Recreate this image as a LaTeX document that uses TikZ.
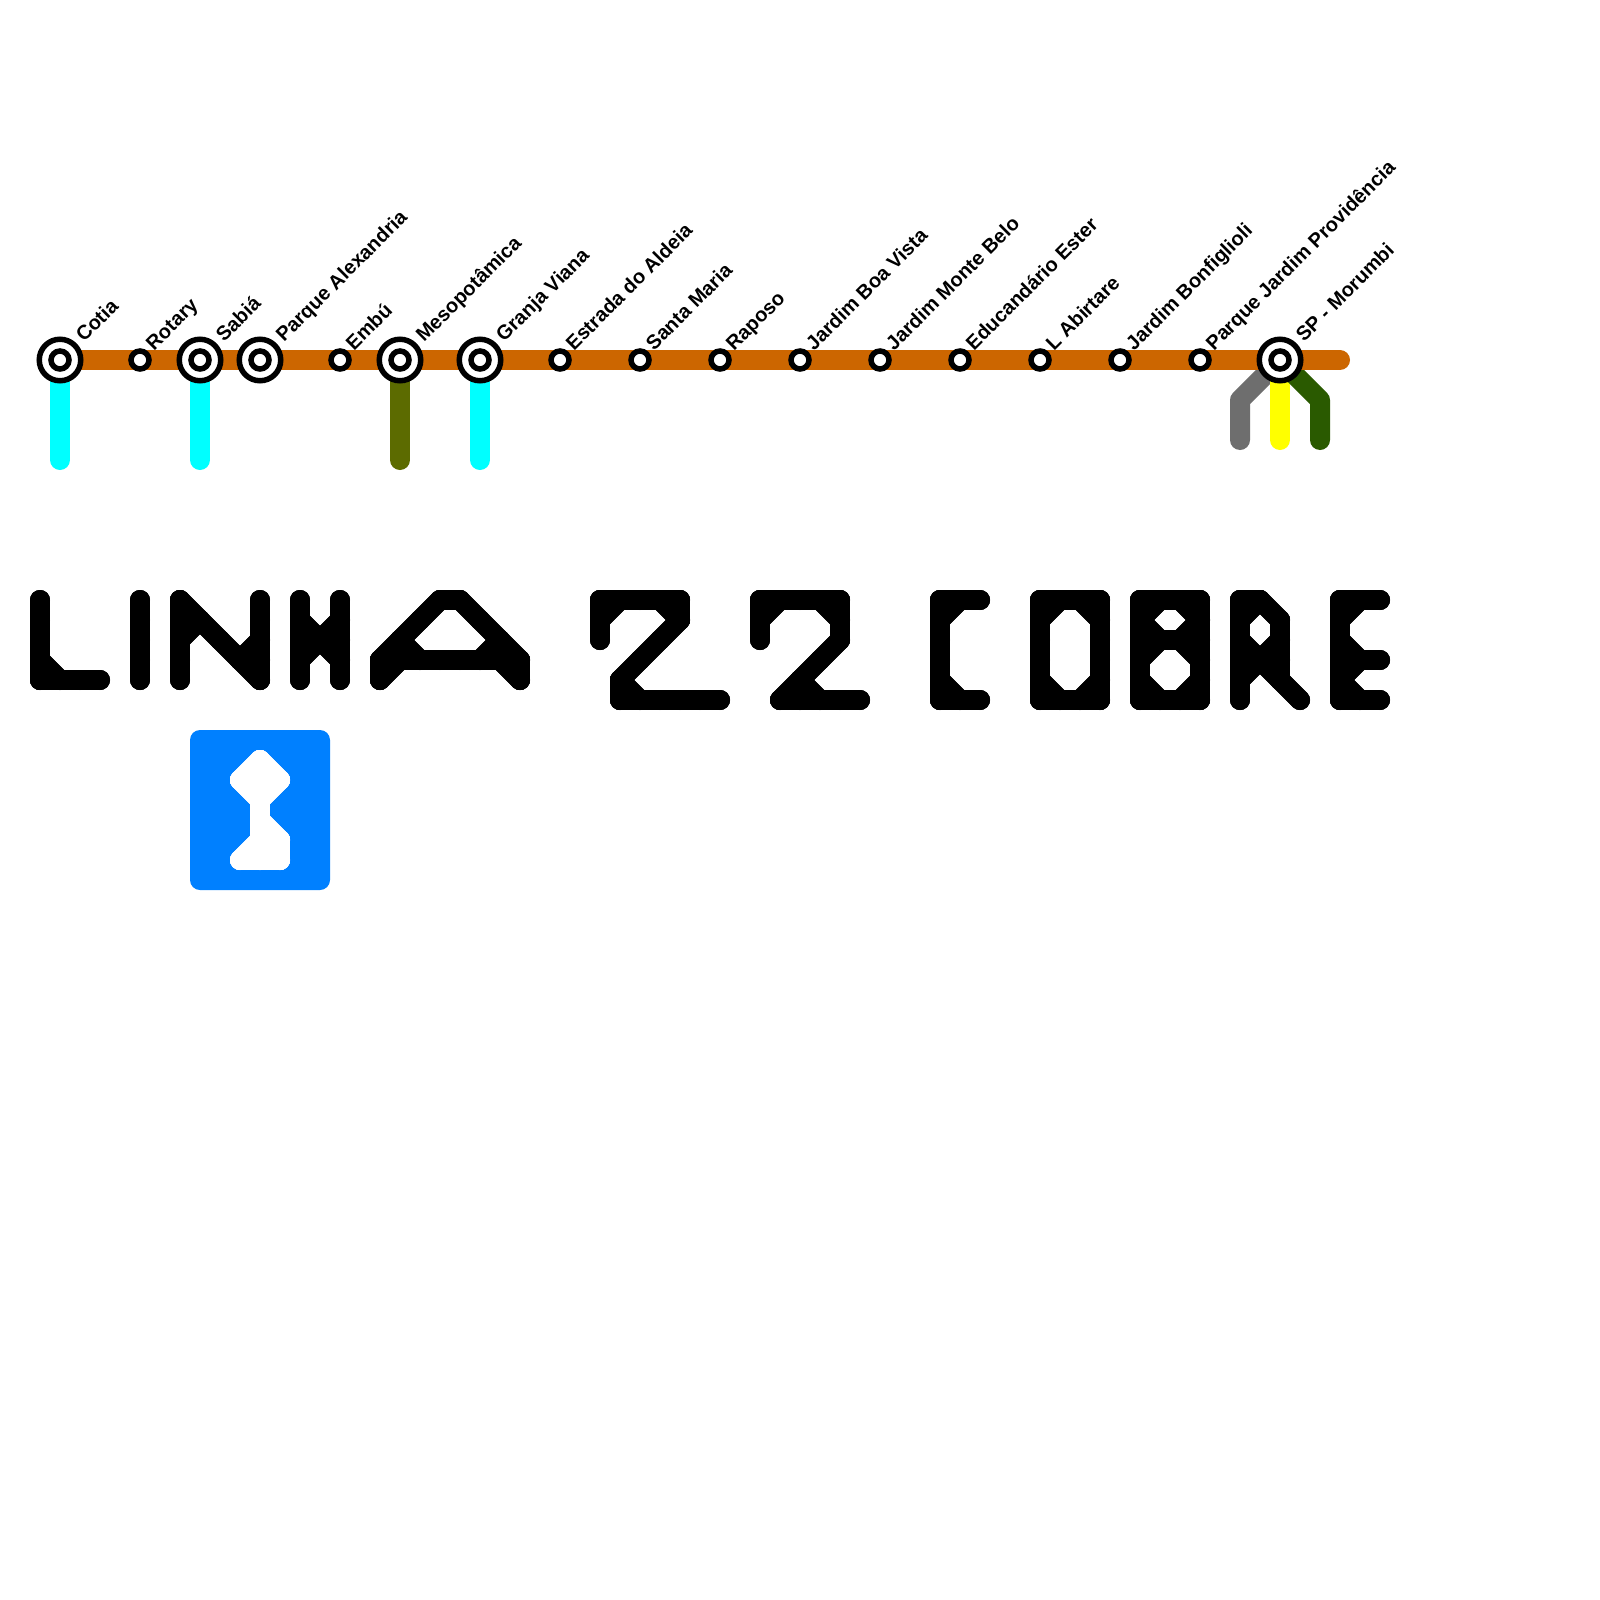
\documentclass[tikz,border=0pt]{standalone}
\usepackage{fontspec}
\setmainfont{Liberation Sans}
\definecolor{lineorange}{HTML}{CC6600}
\definecolor{linecyan}{HTML}{00FFFF}
\definecolor{lineolive}{HTML}{5C6B00}
\definecolor{linegray}{HTML}{6E6E6E}
\definecolor{lineyellow}{HTML}{FFFF00}
\definecolor{linegreen}{HTML}{2A5A00}
\definecolor{signblue}{HTML}{0080FF}
\tikzset{
  route/.style={line width=20pt,line cap=round,line join=round},
  stationsmall/.style={circle,draw=black,fill=white,line width=5.5pt,minimum size=18pt,inner sep=0pt,outer sep=0pt},
  stationbig/.style={circle,draw=black,fill=white,line width=5.5pt,minimum size=41.5pt,inner sep=0pt,outer sep=0pt},
  stopname/.style={rotate=45,anchor=base west,inner sep=0pt,font=\bfseries\fontsize{20}{24}\selectfont},
}
% dot-matrix glyph: every dot joined to its eight neighbours on the 20-unit grid
\newcommand{\matrixglyph}[2]{%
  \foreach \a/\b in {#2}{%
    \foreach \c/\d in {#2}{%
      \pgfmathtruncatemacro{\near}{and(abs(\a-\c)<=20,abs(\b-\d)<=20)}%
      \ifnum\near=1
        \draw[route,#1] (\a,\b) -- (\c,\d);
      \fi
    }%
  }%
}
\begin{document}
\begin{tikzpicture}[x=1pt,y=-1pt]
\useasboundingbox (0,0) rectangle (1600,1600);
\fill[white] (0,0) rectangle (1600,1600);

\coordinate (lineend) at (1340,360);
\coordinate (p60) at (60,360);
\coordinate (p200) at (200,360);
\coordinate (p400) at (400,360);
\coordinate (p480) at (480,360);
\coordinate (p1280) at (1280,360);
\coordinate (b60) at (60,460);
\coordinate (b200) at (200,460);
\coordinate (b400) at (400,460);
\coordinate (b480) at (480,460);
\coordinate (bgray) at (1240,440);
\coordinate (kgray) at (1240,400);
\coordinate (byellow) at (1280,440);
\coordinate (bgreen) at (1320,440);
\coordinate (kgreen) at (1320,400);

% branches
\draw[route,linecyan] (p60) -- (b60);
\draw[route,linecyan] (p200) -- (b200);
\draw[route,lineolive] (p400) -- (b400);
\draw[route,linecyan] (p480) -- (b480);
\draw[route,linegray] (p1280) -- (kgray) -- (bgray);
\draw[route,lineyellow] (p1280) -- (byellow);
\draw[route,linegreen] (p1280) -- (kgreen) -- (bgreen);

% main line
\draw[route,lineorange] (p60) -- (lineend);

% big stations
\foreach \x/\t in {60/Cotia,200/Sabiá,260/Parque Alexandria,400/Mesopotâmica,480/Granja Viana,1280/SP - Morumbi}{
  \node[stationbig] (st\x) at (\x,360) {};
  \node[stationsmall] (in\x) at (\x,360) {};
  \node[stopname] (lb\x) at (\x+24,343) {\t};
}
% small stations
\foreach \x/\t in {140/Rotary,340/Embú,560/Estrada do Aldeia,640/Santa Maria,720/Raposo,800/Jardim Boa Vista,880/Jardim Monte Belo,960/Educandário Ester,1040/L Abirtare,1120/Jardim Bonfiglioli,1200/Parque Jardim Providência}{
  \node[stationsmall] (st\x) at (\x,360) {};
  \node[stopname] (lb\x) at (\x+14,351.5) {\t};
}

% LINHA
\matrixglyph{black}{40/600,40/620,40/640,40/660,40/680,60/680,80/680,100/680}
\matrixglyph{black}{140/600,140/620,140/640,140/660,140/680}
\matrixglyph{black}{180/600,180/620,180/640,180/660,180/680,200/620,220/640,240/660,260/600,260/620,260/640,260/660,260/680}
\matrixglyph{black}{300/600,300/620,300/640,300/660,300/680,320/640,340/600,340/620,340/640,340/660,340/680}
\matrixglyph{black}{440/600,460/600,420/620,480/620,400/640,500/640,380/660,400/660,420/660,440/660,460/660,480/660,500/660,520/660,380/680,520/680}
% 22
\matrixglyph{black}{600/600,620/600,640/600,660/600,680/600,600/620,680/620,600/640,660/640,640/660,620/680,620/700,640/700,660/700,680/700,700/700,720/700}
\matrixglyph{black}{760/600,780/600,800/600,820/600,840/600,760/620,840/620,760/640,840/640,820/660,800/680,780/700,800/700,820/700,840/700,860/700}
% COBRE
\matrixglyph{black}{940/600,960/600,980/600,940/620,940/640,940/660,940/680,940/700,960/700,980/700}
\matrixglyph{black}{1040/600,1060/600,1080/600,1100/600,1040/620,1100/620,1040/640,1100/640,1040/660,1100/660,1040/680,1100/680,1040/700,1060/700,1080/700,1100/700}
\matrixglyph{black}{1140/600,1160/600,1180/600,1200/600,1140/620,1200/620,1140/640,1160/640,1180/640,1200/640,1140/660,1200/660,1140/680,1200/680,1140/700,1160/700,1180/700,1200/700}
\matrixglyph{black}{1240/600,1260/600,1240/620,1280/620,1240/640,1280/640,1240/660,1260/660,1280/660,1240/680,1280/680,1240/700,1300/700}
\matrixglyph{black}{1340/600,1360/600,1380/600,1340/620,1340/640,1340/660,1360/660,1380/660,1340/680,1340/700,1360/700,1380/700}

% blue sign
\fill[signblue,rounded corners=10pt] (190,730) rectangle (330,890);
\matrixglyph{white}{260/760,240/780,260/780,280/780,260/800,260/820,260/840,280/840,240/860,260/860,280/860}
\end{tikzpicture}
\end{document}
